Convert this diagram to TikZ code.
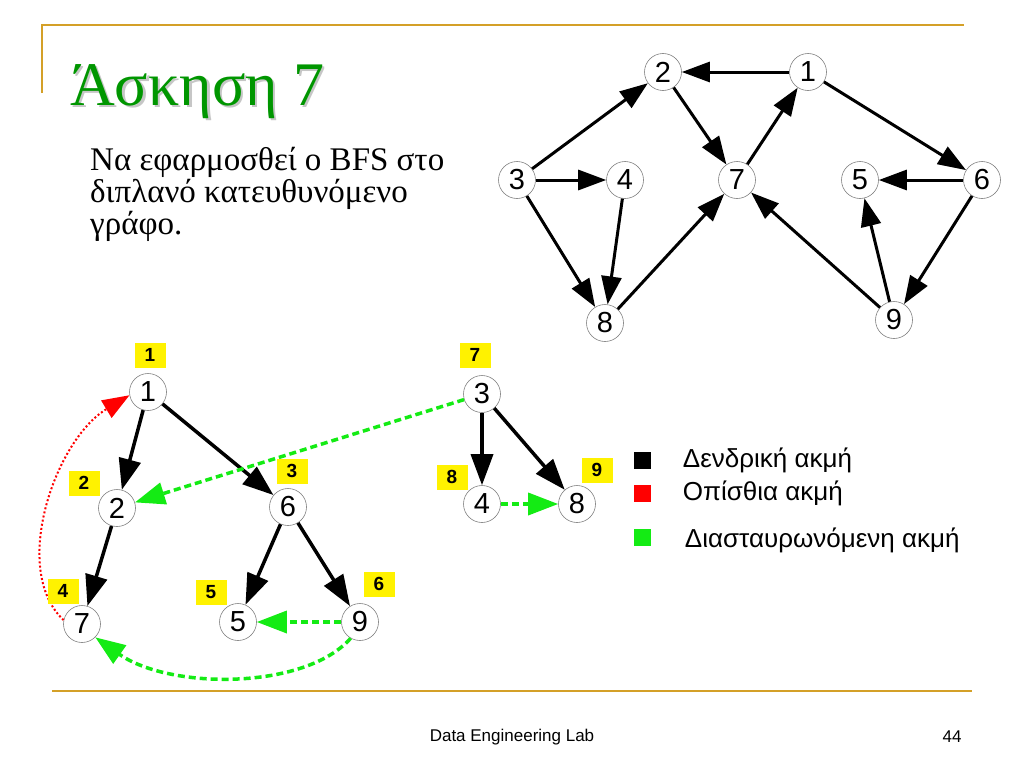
\documentclass[tikz,border=0pt]{standalone}
\usepackage{fontspec}
\setmainfont{Liberation Serif}
\setsansfont{Liberation Sans}
\usetikzlibrary{positioning, arrows.meta}
\definecolor{gold}{RGB}{212,160,40}
\definecolor{titlegreen}{RGB}{0,150,0}
\definecolor{crossgreen}{RGB}{20,235,20}
\tikzset{x=1pt, y=-1pt,
	vertex/.style={circle, draw=gray, line width=0.6pt, fill=white, minimum size=37pt, inner sep=0pt,
		font=\sffamily\fontsize{29}{29}\selectfont},
	order/.style={fill=yellow, minimum width=31pt, minimum height=25pt, inner sep=0pt,
		font=\sffamily\bfseries\fontsize{19}{19}\selectfont},
	arc/.style={draw, -{Triangle[length=28pt,width=20pt]}, line width=3pt},
	tree/.style={draw, -{Triangle[length=31pt,width=22pt]}, line width=3.5pt},
	back/.style={draw=red, -{Triangle[length=27pt,width=20pt]}, line width=2pt, dash pattern=on 2pt off 2.2pt},
	cross/.style={draw=crossgreen, -{Triangle[length=30pt,width=22pt]}, line width=3.5pt, dash pattern=on 7pt off 4pt},
	legbox/.style={minimum size=17pt, inner sep=0pt},
	legtext/.style={inner sep=0pt, anchor=west, font=\sffamily\fontsize{26}{26}\selectfont},
	task/.style={anchor=base west, inner sep=0pt, font=\fontsize{33}{33}\selectfont},
	rule/.style={draw=gold, line width=2.5pt}}

\begin{document}
\begin{tikzpicture}
    \useasboundingbox (0,0) rectangle (1024,768);
    % frame
    \draw[rule] (42,93) -- (42,25) -- (964,25);
    \draw[rule] (52,691) -- (972,691);
    % title and task
    \node[anchor=base west, inner sep=0pt, text=gray!45, font=\fontsize{62}{62}\selectfont] at (72.5,107.5) {Άσκηση 7};
    \node[anchor=base west, inner sep=0pt, text=titlegreen, font=\fontsize{62}{62}\selectfont] (title) at (70,105) {Άσκηση 7};
    \node[task] (task1) at (90,170) {Να εφαρμοσθεί ο BFS στο};
    \node[task] (task2) at (90,202) {διπλανό κατευθυνόμενο};
    \node[task] (task3) at (90,234) {γράφο.};

    % the directed graph
    \node[vertex] (g2) at (663,72) {2};
    \node[vertex] (g1) at (808,72) {1};
    \node[vertex] (g3) at (517,180) {3};
    \node[vertex] (g4) at (625,180) {4};
    \node[vertex] (g7) at (737,180) {7};
    \node[vertex] (g5) at (860,180) {5};
    \node[vertex] (g6) at (982,180) {6};
    \node[vertex] (g8) at (605,323) {8};
    \node[vertex] (g9) at (894,320) {9};
    \foreach \a/\b in {g1/g2, g3/g2, g2/g7, g7/g1, g1/g6, g3/g4, g3/g8, g4/g8, g8/g7, g6/g5, g9/g5, g9/g7, g6/g9}
        \draw[arc] (\a) -- (\b);

    % BFS forest
    \node[vertex] (b1) at (148,392) {1};
    \node[vertex] (b2) at (117,508) {2};
    \node[vertex] (b6) at (288,507) {6};
    \node[vertex] (b7) at (82,624) {7};
    \node[vertex] (b5) at (238,622) {5};
    \node[vertex] (b9) at (360,622) {9};
    \node[vertex] (b3) at (482,394) {3};
    \node[vertex] (b4) at (482,504) {4};
    \node[vertex] (b8) at (577,504) {8};
    \foreach \a/\b in {b1/b2, b1/b6, b2/b7, b6/b5, b6/b9, b3/b4, b3/b8}
        \draw[tree] (\a) -- (\b);
    \draw[back] (b7.168) .. controls (10,570) and (55,440) .. (b1.190);
    \draw[cross] (b3) -- (b2);
    \draw[cross] (b9) -- (b5);
    \draw[cross] (b4) -- (b8);
    \draw[cross] (b9.240) .. controls (305,690) and (170,690) .. (b7.-45);

    % visiting order
    \node[order] (o1) at (150,355) {1};
    \node[order] (o2) at (84,483) {2};
    \node[order] (o3) at (292,471) {3};
    \node[order] (o4) at (63,591) {4};
    \node[order] (o5) at (211,592) {5};
    \node[order] (o6) at (379,584) {6};
    \node[order] (o7) at (475,355) {7};
    \node[order] (o8) at (452,477) {8};
    \node[order] (o9) at (597,470) {9};

    % legend
    \node[legbox, fill=black] (ltree) at (642,460) {};
    \node[legbox, fill=red] (lback) at (642,493) {};
    \node[legbox, fill=crossgreen] (lcross) at (642,537) {};
    \node[legtext, right=32pt of ltree] (ttree) {Δενδρική ακμή};
    \node[legtext, right=32pt of lback] (tback) {Οπίσθια ακμή};
    \node[legtext, right=34pt of lcross, yshift=-3pt] (tcross) {Διασταυρωνόμενη ακμή};

    % footer
    \node[font=\sffamily\fontsize{17}{17}\selectfont] (lab) at (512,737) {Data Engineering Lab};
    \node[font=\sffamily\fontsize{17}{17}\selectfont] (page) at (952,737) {44};
\end{tikzpicture}
\end{document}
